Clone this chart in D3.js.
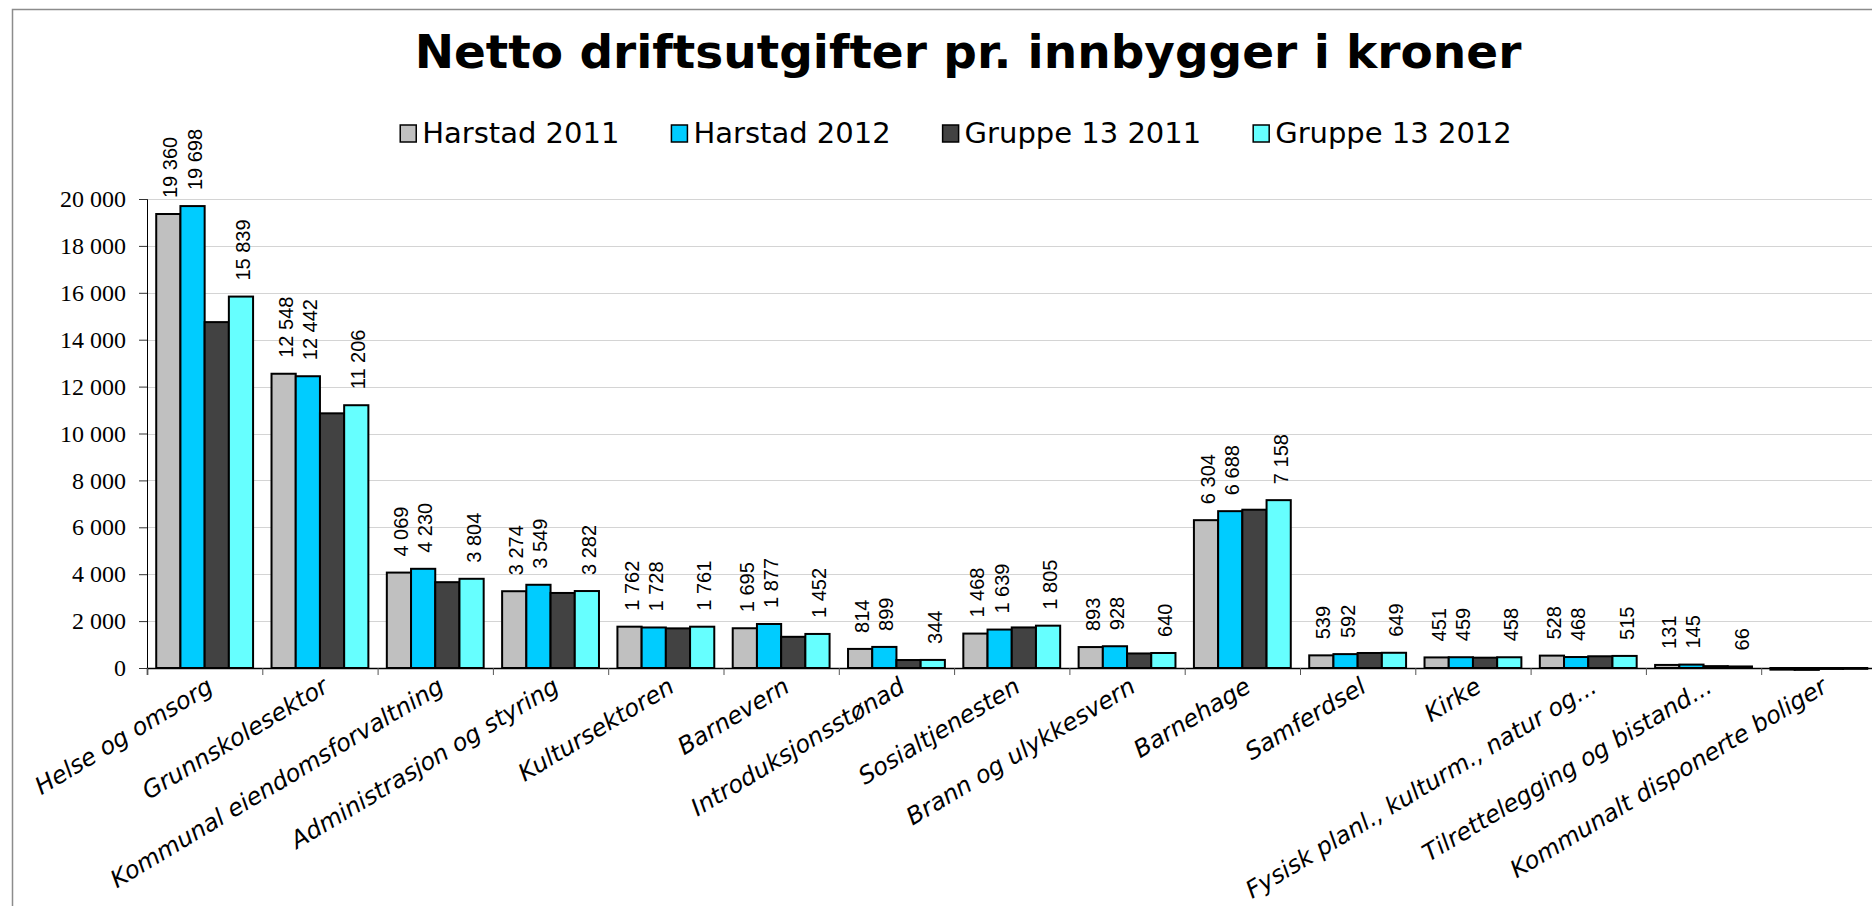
<!DOCTYPE html>
<html>
<head>
<meta charset="utf-8">
<script src="https://cdn.jsdelivr.net/npm/d3@7"></script>
<style>
  body { margin: 0; background: #fff; }
  svg { display: block; }
</style>
</head>
<body>
<div id="canvas"></div>
<script>
var categories = ["Helse og omsorg", "Grunnskolesektor", "Kommunal eiendomsforvaltning",
  "Administrasjon og styring", "Kultursektoren", "Barnevern", "Introduksjonsstønad",
  "Sosialtjenesten", "Brann og ulykkesvern", "Barnehage", "Samferdsel", "Kirke",
  "Fysisk planl., kulturm., natur og...", "Tilrettelegging og bistand...",
  "Kommunalt disponerte boliger"];
var seriesNames = ["Harstad 2011", "Harstad 2012", "Gruppe 13 2011", "Gruppe 13 2012"];
var harstad2011 = [19360, 12548, 4069, 3274, 1762, 1695, 814, 1468, 893, 6304, 539, 451, 528, 131, -70];
var harstad2012 = [19698, 12442, 4230, 3549, 1728, 1877, 899, 1639, 928, 6688, 592, 459, 468, 145, -80];
var gruppe2011 = [14750, 10860, 3660, 3200, 1690, 1330, 340, 1730, 620, 6750, 640, 440, 500, 80, -40];
var gruppe2012 = [15839, 11206, 3804, 3282, 1761, 1452, 344, 1805, 640, 7158, 649, 458, 515, 66, -35];
var yTicks = [0, 2000, 4000, 6000, 8000, 10000, 12000, 14000, 16000, 18000, 20000];
// Gruppe 13 2011 has no data labels in the original
var labelled = [true, true, false, true];

var colors = ["#c0c0c0", "#00ccff", "#424242", "#66ffff"];
var values = [harstad2011, harstad2012, gruppe2011, gruppe2012];

var W = 1872, H = 906;
var margin = {left: 147, top: 199, right: -4.5, bottom: 238};
var width = W - margin.left - margin.right;
var height = H - margin.top - margin.bottom;

var svg = d3.select("#canvas").append("svg")
  .attr("width", W)
  .attr("height", H);

// outer chart border (runs off the right/bottom edge)
svg.append("rect")
  .attr("x", 12.5).attr("y", 9.5)
  .attr("width", W + 20).attr("height", H + 20)
  .attr("fill", "none")
  .attr("stroke", "#8c8c8c")
  .attr("stroke-width", 1.5);

svg.append("text")
  .attr("x", 968)
  .attr("y", 68)
  .attr("text-anchor", "middle")
  .attr("font-family", "DejaVu Sans, Verdana, sans-serif")
  .attr("font-weight", "bold")
  .attr("font-size", "47px")
  .text("Netto driftsutgifter pr. innbygger i kroner");

var g = svg.append("g")
  .attr("transform", "translate(" + margin.left + ", " + margin.top + ")");

var x0 = d3.scaleBand()
  .domain(categories)
  .range([0, width])
  .paddingInner(0.16)
  .paddingOuter(0.08);
var x1 = d3.scaleBand()
  .domain(d3.range(seriesNames.length))
  .range([0, x0.bandwidth()]);
var y = d3.scaleLinear()
  .domain([0, 20000])
  .range([height, 0]);
var xEdges = d3.scaleLinear()
  .domain([0, categories.length])
  .range([0, width]);

var fmt = (d) => d3.format(",")(d).replace(/,/g, " ");

// gridlines
g.append("g")
  .selectAll("line")
  .data(yTicks.filter((d) => d > 0))
  .enter().append("line")
  .attr("x1", 0)
  .attr("x2", W)
  .attr("y1", (d) => Math.round(y(d)) + 0.5)
  .attr("y2", (d) => Math.round(y(d)) + 0.5)
  .attr("stroke", "#d4d4d4")
  .attr("stroke-width", 1.2);

var leftAxis = d3.axisLeft(y).tickValues(yTicks).tickSize(8).tickPadding(13).tickFormat(fmt);
var yAxis = g.append("g")
  .attr("class", "left axis")
  .call(leftAxis)
  .attr("font-family", "'Liberation Serif', 'Times New Roman', serif")
  .attr("font-size", 24);
yAxis.selectAll("text").attr("fill", "#000");
yAxis.selectAll("line").attr("stroke", "#333");
yAxis.select(".domain").attr("stroke", "#000");

// bars
var groups = g.selectAll(".cat")
  .data(categories)
  .enter().append("g")
  .attr("class", "cat")
  .attr("transform", (d) => "translate(" + x0(d) + ",0)");

groups.selectAll("rect")
  .data((c, i) => values.map((s, k) => ({k: k, v: s[i]})))
  .enter().append("rect")
  .attr("x", (d) => x1(d.k))
  .attr("y", (d) => y(Math.max(0, d.v)))
  .attr("width", x1.bandwidth())
  .attr("height", (d) => Math.abs(y(d.v) - y(0)))
  .attr("fill", (d) => colors[d.k])
  .attr("stroke", "#000")
  .attr("stroke-width", 2);

groups.selectAll("text.val")
  .data((c, i) => values.map((s, k) => ({k: k, v: s[i]})).filter((d) => labelled[d.k] && d.v > 0))
  .enter().append("text")
  .attr("class", "val")
  .attr("transform", (d) => "translate(" + (x1(d.k) + x1.bandwidth() / 2 + 2) + "," + (y(d.v) - 16) + ") rotate(-90)")
  .attr("dy", "0.35em")
  .attr("font-family", "Liberation Sans, Arial, sans-serif")
  .attr("font-size", "20px")
  .text((d) => fmt(d.v));

// x axis with ticks between categories
var bottomAxis = d3.axisBottom(xEdges)
  .tickValues(d3.range(categories.length + 1))
  .tickSize(7)
  .tickFormat("");
var xAxis = g.append("g")
  .attr("class", "x axis")
  .attr("transform", "translate(0, " + height + ")")
  .call(bottomAxis);
xAxis.select(".domain").attr("stroke", "#000").attr("stroke-width", 1.5);
xAxis.selectAll("line").attr("stroke", "#555");

g.append("g")
  .selectAll("text")
  .data(categories)
  .enter().append("text")
  .attr("transform", (d) => "translate(" + (x0(d) + x0.bandwidth() / 2 + 10) + "," + (height + 23) + ") rotate(-31)")
  .attr("text-anchor", "end")
  .attr("font-family", "DejaVu Sans, Verdana, sans-serif")
  .attr("font-style", "italic")
  .attr("font-size", "24px")
  .text((d) => d);

// legend
var legend = svg.append("g");
var items = legend.selectAll("g")
  .data(seriesNames)
  .enter().append("g");
items.append("rect")
  .attr("width", 16)
  .attr("height", 17)
  .attr("y", 125)
  .attr("fill", (d, i) => colors[i])
  .attr("stroke", "#000")
  .attr("stroke-width", 1.5);
items.append("text")
  .attr("x", 22)
  .attr("y", 143)
  .attr("font-family", "DejaVu Sans, Verdana, sans-serif")
  .attr("font-size", "29px")
  .text((d) => d);
var pos = 0;
var starts = [];
items.each(function(d) {
  starts.push(pos);
  pos += 22 + d3.select(this).select("text").node().getComputedTextLength() + 52;
});
var total = pos - 52;
items.attr("transform", (d, i) => "translate(" + (956 - total / 2 + starts[i]) + ",0)");
</script>
</body>
</html>
